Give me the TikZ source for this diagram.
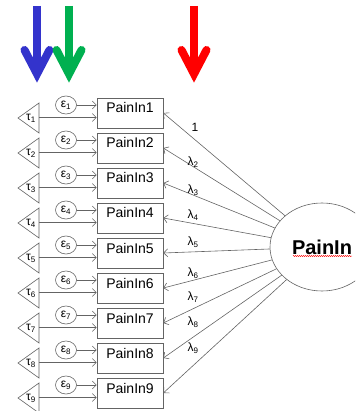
\documentclass[tikz,border=0pt]{standalone}
\usepackage{fontspec}
\setmainfont{Liberation Sans}
\usetikzlibrary{shapes.geometric,arrows.meta,decorations.pathmorphing}
\definecolor{arrowblue}{RGB}{51,51,204}
\definecolor{arrowgreen}{RGB}{0,176,80}
\definecolor{arrowred}{RGB}{255,0,0}
\definecolor{edgegray}{RGB}{100,100,100}
\begin{document}
\begin{tikzpicture}[x=1pt,y=-1pt,
  ln/.style={draw=edgegray, line width=0.6pt},
  tipped/.style={-{Straight Barb[length=4pt,width=8pt,line width=0.6pt]}},
  obs/.style={draw=edgegray, line width=0.6pt, rectangle, minimum width=66pt,
    minimum height=30pt, inner sep=0pt, text height=8pt, text depth=8pt,
    font=\fontsize{14}{16}\selectfont},
  err/.style={draw=edgegray, line width=0.6pt, ellipse, minimum width=21pt,
    minimum height=18pt, inner sep=0pt, font=\fontsize{12}{14}\selectfont},
  tri/.style={draw=edgegray, line width=0.6pt, line join=miter},
  greek/.style={inner sep=0pt, font=\fontsize{12}{14}\selectfont},
  shaft/.style={line width=8pt, line cap=butt},
  head/.style={line width=8pt, line cap=round, line join=miter},
  latent/.style={draw=edgegray, line width=0.6pt, ellipse, minimum width=104pt,
    minimum height=88pt, inner sep=0pt, font=\fontsize{20}{24}\selectfont\bfseries}
]
\useasboundingbox (0,0) rectangle (355,411);
\clip (0,0) rectangle (355,411);

% three large pointer arrows along the top
\draw[shaft, arrowblue] (37,6) -- (37,72);
\draw[head, arrowblue] (24.5,50) -- (37,74) -- (49.5,50);
\draw[shaft, arrowgreen] (69,6) -- (69,72);
\draw[head, arrowgreen] (56.5,50) -- (69,74) -- (81.5,50);
\draw[shaft, arrowred] (194,6) -- (194,72);
\draw[head, arrowred] (181.5,50) -- (194,74) -- (206.5,50);

% latent factor
\node[latent] (P) at (322,247) {PainIn};
\draw[arrowred, line width=0.4pt, decorate,
  decoration={snake, amplitude=0.6pt, segment length=2pt}] (293,256) -- (352,256);

% indicators with their error terms and intercepts
\foreach \i in {1,...,9}{
  \pgfmathsetmacro\cy{113+35*(\i-1)}
  \node[obs] (b\i) at (130,\cy) {PainIn\i};
  \node[err] (e\i) at (66,\cy-8) {ε\textsubscript{\i}};
  \draw[tri] (18,\cy+5) -- (39,\cy-10) -- (39,\cy+20) -- cycle;
  \node[greek] (t\i) at (31,\cy+5) {τ\textsubscript{\i}};
  \coordinate (s\i) at (39,\cy+4.5);
  \draw[ln,tipped] (e\i) -- (b\i.west |- e\i);
  \draw[ln,tipped] (s\i) -- (b\i.west |- s\i);
  \draw[ln,tipped] (P) -- (b\i.east);
}

% loading labels
\node[greek] (l1) at (195,127) {1};
\foreach \i/\y in {2/162,3/190,4/215,5/242,6/273,7/297,8/322,9/348}{
  \node[greek] (l\i) at (193,\y) {λ\textsubscript{\i}};
}
\end{tikzpicture}
\end{document}
